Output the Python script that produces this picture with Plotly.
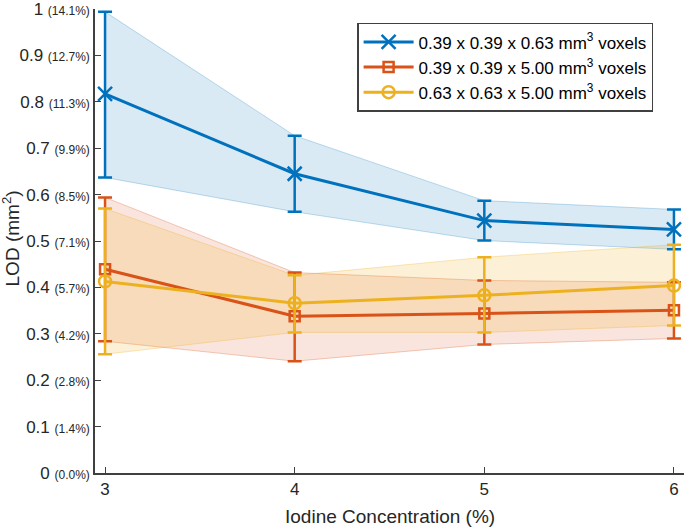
import plotly.graph_objects as go

conc = [3, 4, 5, 6]
names = ["0.39 x 0.39 x 0.63 mm<sup>3</sup> voxels",
         "0.39 x 0.39 x 5.00 mm<sup>3</sup> voxels",
         "0.63 x 0.63 x 5.00 mm<sup>3</sup> voxels"]
blue_mean = [0.817, 0.645, 0.544, 0.525]
blue_hi = [0.994, 0.727, 0.587, 0.568]
blue_lo = [0.637, 0.563, 0.501, 0.482]
orange_mean = [0.439, 0.338, 0.344, 0.351]
orange_hi = [0.594, 0.432, 0.415, 0.411]
orange_lo = [0.284, 0.241, 0.277, 0.290]
yellow_mean = [0.413, 0.366, 0.383, 0.404]
yellow_hi = [0.570, 0.426, 0.465, 0.492]
yellow_lo = [0.256, 0.303, 0.303, 0.318]

ytick_vals = [0, 0.1, 0.2, 0.3, 0.4, 0.5, 0.6, 0.7, 0.8, 0.9, 1]
ytick_main = ["0", "0.1", "0.2", "0.3", "0.4", "0.5", "0.6", "0.7", "0.8", "0.9", "1"]
ytick_pct = ["(0.0%)", "(1.4%)", "(2.8%)", "(4.2%)", "(5.7%)", "(7.1%)", "(8.5%)",
             "(9.9%)", "(11.3%)", "(12.7%)", "(14.1%)"]
x_title = "Iodine Concentration (%)"
y_title = "LOD (mm<sup>2</sup>)"

series = [
    (names[0], blue_mean, blue_hi, blue_lo, "#0072BD", "rgba(0,114,189,0.15)", "rgba(0,114,189,0.25)", "x-thin", 14),
    (names[1], orange_mean, orange_hi, orange_lo, "#D95319", "rgba(217,83,25,0.15)", "rgba(217,83,25,0.3)", "square-open", 10),
    (names[2], yellow_mean, yellow_hi, yellow_lo, "#EDB120", "rgba(237,177,32,0.18)", "rgba(237,177,32,0.3)", "circle-open", 12),
]

fig = go.Figure()
for name, m, hi, lo, col, fillc, edgec, sym, sz in series:
    fig.add_trace(go.Scatter(
        x=conc + conc[::-1], y=hi + lo[::-1], fill="toself", fillcolor=fillc,
        mode="lines", line=dict(color=edgec, width=1), showlegend=False, hoverinfo="skip",
        cliponaxis=False))
for name, m, hi, lo, col, fillc, edgec, sym, sz in series:
    fig.add_trace(go.Scatter(
        x=conc, y=m, name=name, mode="lines+markers", cliponaxis=False,
        line=dict(color=col, width=3),
        marker=dict(symbol=sym, size=sz, color=col, line=dict(color=col, width=2.5)),
        error_y=dict(type="data", symmetric=False,
                     array=[h - v for h, v in zip(hi, m)],
                     arrayminus=[v - l for l, v in zip(lo, m)],
                     color=col, thickness=2.5, width=7)))

ticktext = [f"{a} <span style='font-size:12px'>{b}</span>" for a, b in zip(ytick_main, ytick_pct)]

fig.update_layout(
    width=685, height=528,
    margin=dict(l=95, r=1, t=9, b=55),
    paper_bgcolor="white", plot_bgcolor="white",
    font=dict(family="Liberation Sans, Arial, sans-serif", color="#262626", size=17),
    xaxis=dict(range=[2.947, 6.053], tickvals=conc, ticktext=[str(c) for c in conc],
               showgrid=False, zeroline=False, showline=True, linecolor="#404040", linewidth=1.5,
               ticks="inside", ticklen=6, tickcolor="#404040", tickfont=dict(size=17),
               automargin=False, ticklabeloverflow="allow"),
    yaxis=dict(range=[0, 1.0001], tickvals=ytick_vals, ticktext=ticktext,
               showgrid=False, zeroline=False, showline=True, linecolor="#404040", linewidth=1.5,
               ticks="inside", ticklen=6, tickcolor="#404040", tickfont=dict(size=17),
               automargin=False, ticklabeloverflow="allow"),
    legend=dict(x=0.445, y=0.97, xanchor="left", yanchor="top",
                bgcolor="white", bordercolor="#404040", borderwidth=1.5,
                font=dict(size=17, color="#000000"), tracegroupgap=0, itemwidth=50),
    annotations=[
        dict(text=x_title, xref="paper", yref="paper", x=0.501, y=-0.094,
             xanchor="center", yanchor="middle", showarrow=False, font=dict(size=19)),
        dict(text=y_title, xref="paper", yref="paper", x=-0.143, y=0.505, textangle=-90,
             xanchor="center", yanchor="middle", showarrow=False, font=dict(size=19)),
    ],
)
fig.write_html("out.html", config={"displayModeBar": False},
               post_script="document.body.style.margin='0px';")
